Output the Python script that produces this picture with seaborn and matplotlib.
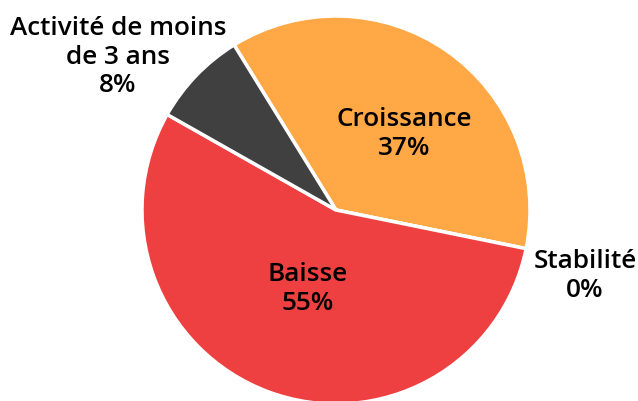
import matplotlib
matplotlib.use("Agg")
import matplotlib.pyplot as plt
import seaborn as sns

categories = ["Croissance", "Stabilité", "Baisse", "Activité de moins\nde 3 ans"]
shares = [37, 0, 55, 8]
colors = ["#FFA845", "#FFFFFF", "#EE4040", "#404040"]

# label anchors in pixel coordinates (x from left, y from top)
label_pos = [(404, 134), (585, 276), (308, 289), (118, 57)]

sns.set_theme(style="white")
plt.rcParams["font.family"] = ["Open Sans", "DejaVu Sans"]

W, H = 638, 401
fig = plt.figure(figsize=(W / 100, H / 100), dpi=100)
ax = fig.add_axes([0, 0, 1, 1])

cx, cy, radius = 336, 210, 194
ax.pie(
    shares,
    colors=colors,
    startangle=121.7,
    counterclock=False,
    center=(cx, H - cy),
    radius=radius,
    wedgeprops={"edgecolor": "white", "linewidth": 2.5},
    frame=True,
)

for name, pct, (x, y) in zip(categories, shares, label_pos):
    ax.text(
        x, H - y, f"{name}\n{pct}%",
        ha="center", va="center", fontsize=18.8, fontweight="semibold",
        color="black", linespacing=1.2,
    )

ax.set_xlim(0, W)
ax.set_ylim(0, H)
ax.set_aspect("equal")
ax.axis("off")

fig.savefig("out.png", dpi=100)
plt.close(fig)
